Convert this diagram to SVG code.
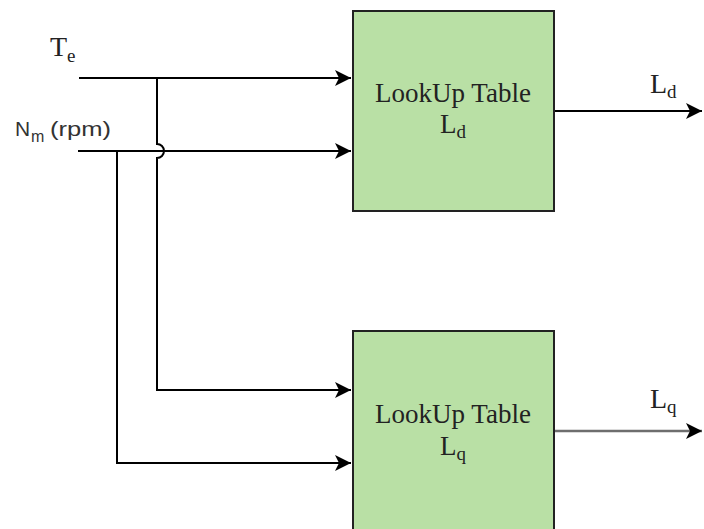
<svg xmlns="http://www.w3.org/2000/svg" width="704" height="529" viewBox="0 0 704 529">
<style>
.box{fill:#b9e0a5;stroke:#222;stroke-width:2}
.bt{font-family:"Liberation Serif",serif;font-size:27px;fill:#222;text-anchor:middle}
.lbl{font-family:"Liberation Serif",serif;font-size:28px;fill:#222}
.sub{font-size:19px}
.sans{font-family:"Liberation Sans",Arial,sans-serif;fill:#333}
.ln{fill:none;stroke:#000;stroke-width:2}
</style>
<defs>
<marker id="arr" markerUnits="userSpaceOnUse" markerWidth="18" markerHeight="18" refX="16" refY="9" orient="auto">
<path d="M0,1 L16,9 L0,17 L4,9 Z" fill="#000"/>
</marker>
</defs>
<rect width="704" height="529" fill="#fff"/>
<g id="connectors">
<path class="ln" d="M79,78 H351" marker-end="url(#arr)"/>
<path class="ln" d="M78,151 H351" marker-end="url(#arr)"/>
<path class="ln" d="M157,78 V144 A7,7 0 0 1 157,158 V390 H351" marker-end="url(#arr)"/>
<path class="ln" d="M117,151 V463 H351" marker-end="url(#arr)"/>
<path class="ln" d="M554,111 H702" marker-end="url(#arr)"/>
<path class="ln" d="M554,431 H702" style="stroke:#6e6e6e;stroke-width:2.5" marker-end="url(#arr)"/>
</g>
<g id="label-Te">
<text class="lbl" x="50" y="56">T<tspan class="sub" dy="6">e</tspan></text>
</g>
<g id="label-Nm">
<text class="sans" x="15" y="136" font-size="21">N</text>
<text class="sans" x="31" y="142" font-size="16">m</text>
<text class="sans" x="50" y="136" font-size="21" textLength="61" lengthAdjust="spacingAndGlyphs">(rpm)</text>
</g>
<g id="node-Ld">
<rect class="box" x="353" y="11" width="201" height="200"/>
<text class="bt" x="453" y="102">LookUp Table</text>
<text class="bt" x="453" y="133">L<tspan class="sub" dy="5">d</tspan></text>
</g>
<g id="node-Lq">
<rect class="box" x="353" y="331" width="201" height="202"/>
<text class="bt" x="453" y="423">LookUp Table</text>
<text class="bt" x="453" y="455">L<tspan class="sub" dy="5">q</tspan></text>
</g>
<g id="label-Ld">
<text class="lbl" x="650" y="93">L<tspan class="sub" dy="5">d</tspan></text>
</g>
<g id="label-Lq">
<text class="lbl" x="650" y="408">L<tspan class="sub" dy="5">q</tspan></text>
</g>
</svg>
